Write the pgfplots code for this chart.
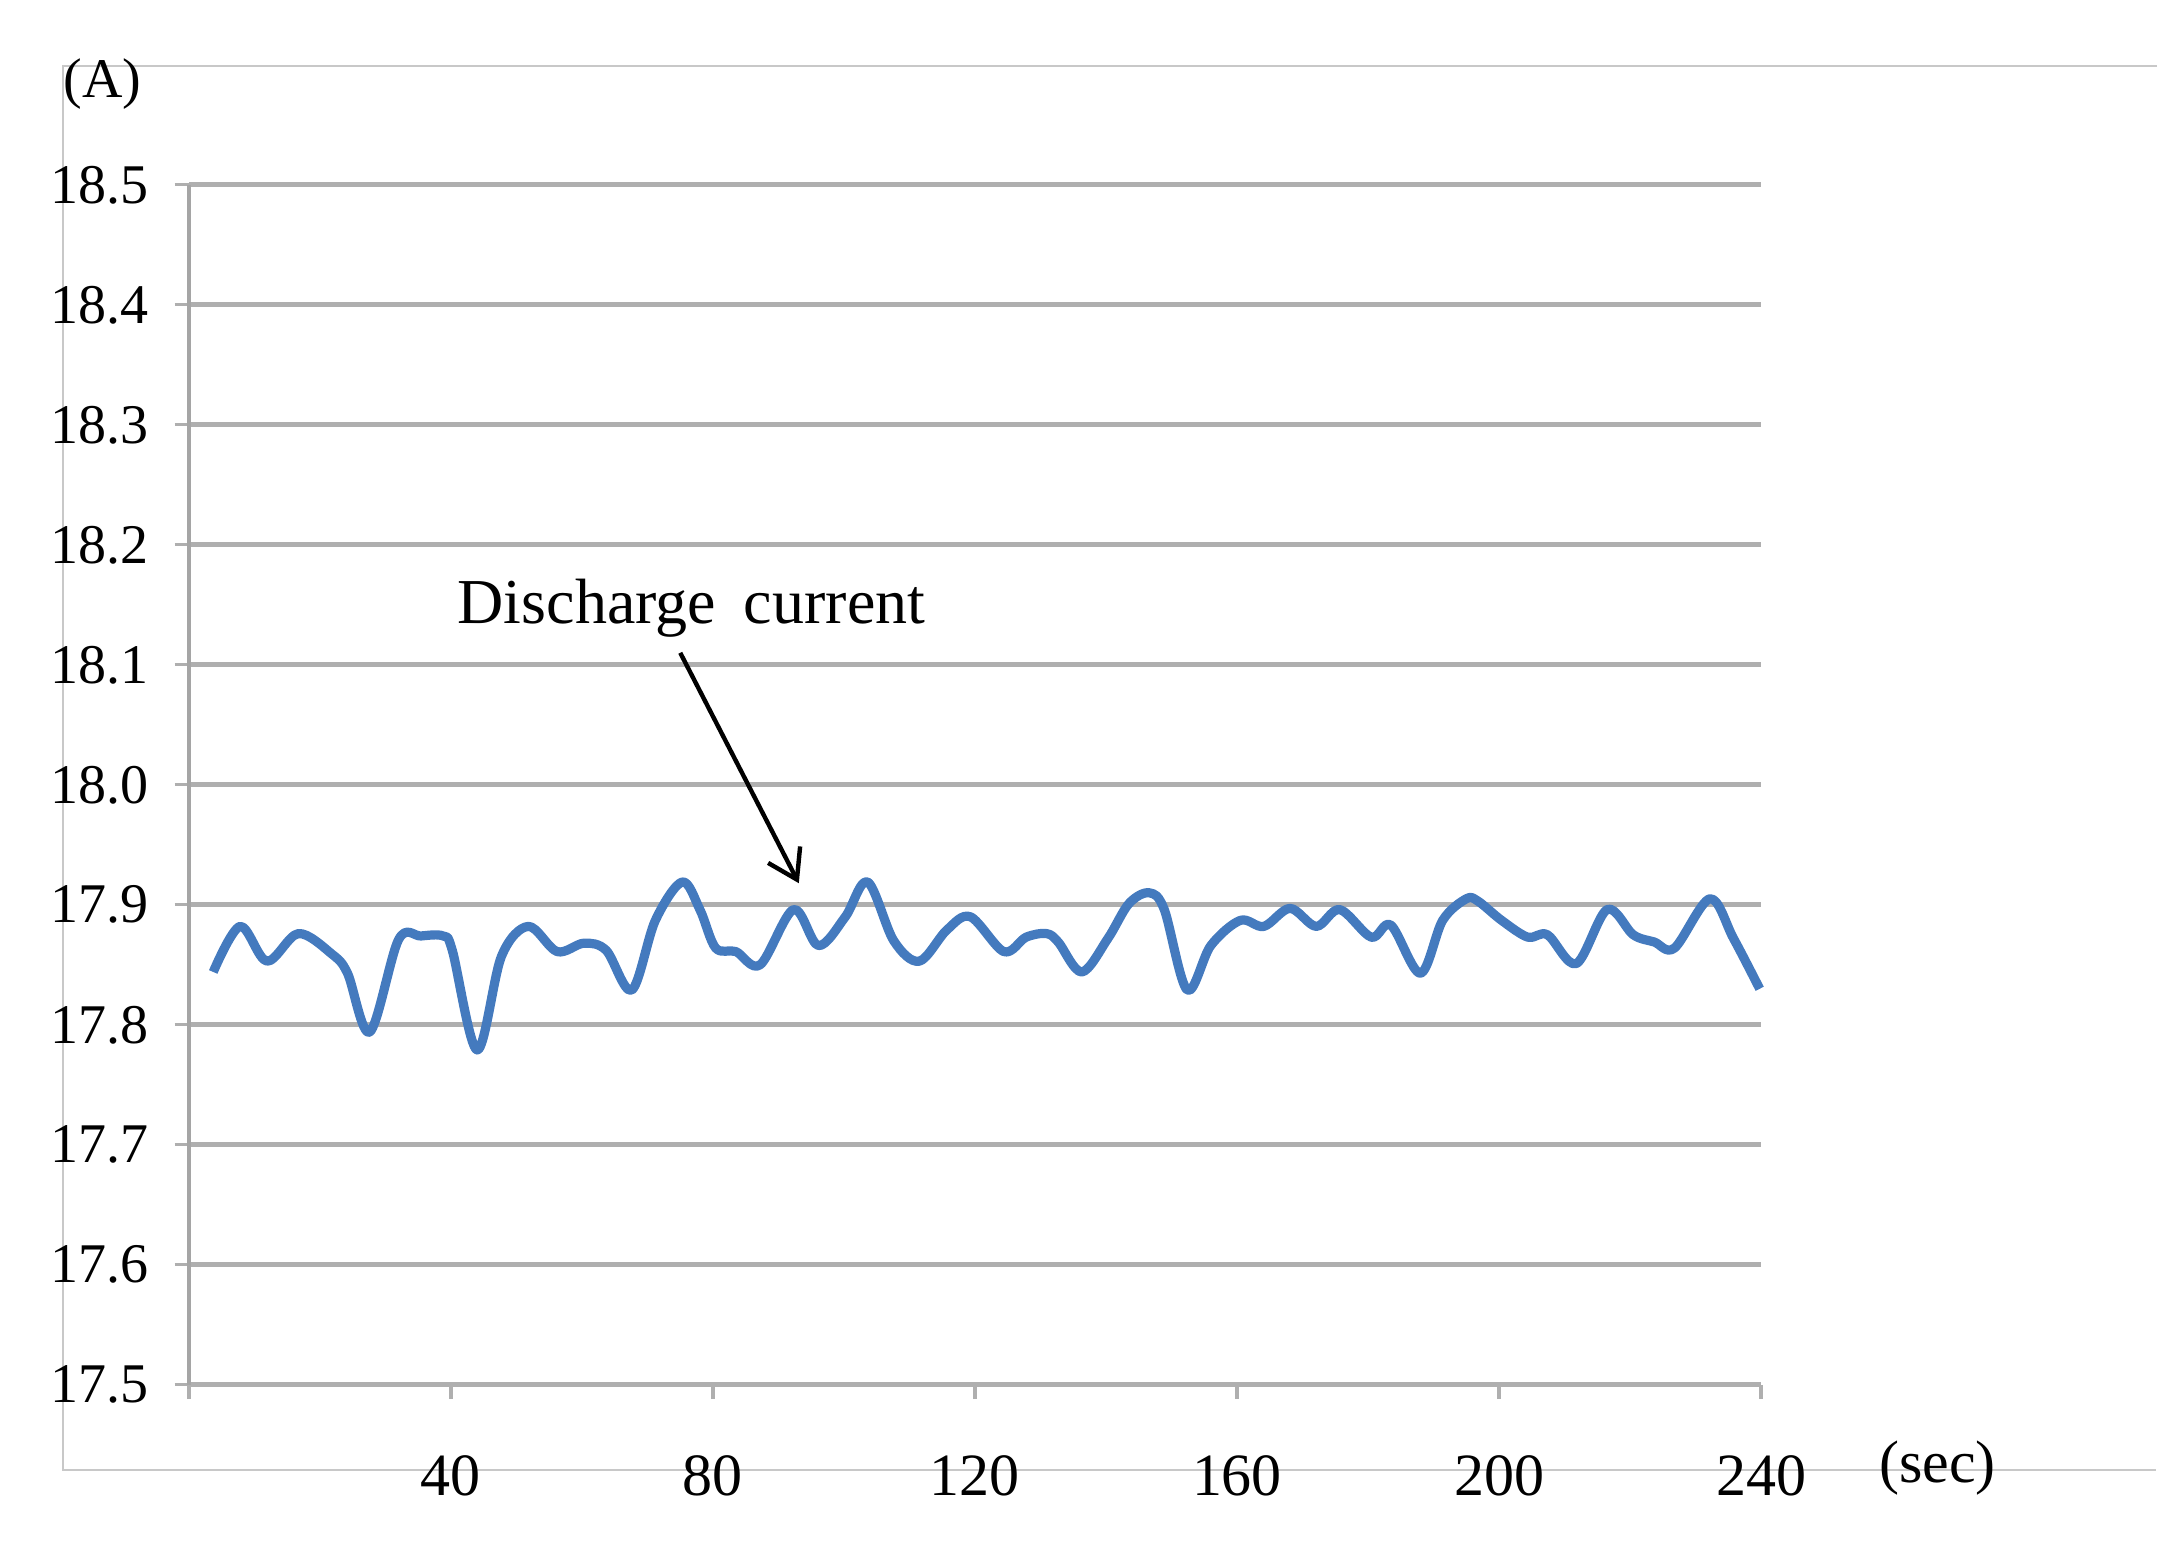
\documentclass[border=0pt]{standalone}
\usepackage{pgfplots}
\pgfplotsset{compat=1.18}
\usepackage{fontspec}
\setmainfont{Liberation Serif}
\usetikzlibrary{arrows.meta}
\definecolor{gridgray}{RGB}{175,175,175}
\definecolor{axisgray}{RGB}{165,165,165}
\definecolor{framegray}{RGB}{200,200,200}
\definecolor{lineblue}{RGB}{68,122,190}
\begin{document}
\begin{tikzpicture}
\useasboundingbox (0,0) rectangle (544.5pt,385.5pt);
% outer frame
\draw[framegray, line width=0.6pt] (539.25pt,369pt) -- (15.75pt,369pt) -- (15.75pt,18pt) -- (539pt,18pt);
\begin{axis}[
  at={(47.25pt,39.3pt)}, anchor=south west,
  scale only axis, width=393pt, height=300pt,
  xmin=0, xmax=240, ymin=17.5, ymax=18.5,
  axis lines*=left,
  axis line style={-},
  x axis line style={draw=gridgray, line width=1.2pt},
  y axis line style={draw=axisgray, line width=0.8pt},
  xtick={0,40,80,120,160,200,240},
  xticklabels={,40,80,120,160,200,240},
  ytick={17.5,17.6,17.7,17.8,17.9,18.0,18.1,18.2,18.3,18.4,18.5},
  yticklabel style={/pgf/number format/fixed, /pgf/number format/fixed zerofill, /pgf/number format/precision=1, /pgf/number format/assume math mode=true, font=\fontsize{14}{16}\selectfont, xshift=-3pt},
  xticklabel style={/pgf/number format/assume math mode=true, font=\fontsize{15}{17}\selectfont, yshift=-10.5pt},
  tick align=outside,
  major tick length=3.6pt,
  tick style={draw=gridgray, line width=0.8pt},
  ymajorgrids,
  grid style={draw=gridgray, line width=1.2pt},
  clip=false,
]
\addplot[lineblue, line width=2.3pt, smooth, tension=0.55, line join=round] coordinates {
(3.7,17.844) (7.8,17.882) (11.9,17.853) (16.7,17.876) (21.8,17.859)
(24.2,17.843) (27.6,17.794) (32.0,17.871) (35.4,17.874) (38.8,17.874)
(40.2,17.862) (44.0,17.779) (47.7,17.857) (51.8,17.882) (56.2,17.861)
(60.3,17.868) (63.7,17.862) (67.6,17.829) (71.2,17.887) (75.3,17.919)
(78.0,17.896) (80.4,17.864) (83.5,17.861) (87.2,17.850) (92.3,17.896)
(96.1,17.866) (100.2,17.890) (103.6,17.919) (107.6,17.870) (111.5,17.853)
(115.7,17.879) (119.3,17.890) (124.4,17.861) (127.8,17.873) (130.9,17.876)
(132.7,17.869) (136.3,17.844) (140.3,17.872) (143.5,17.901) (146.6,17.910)
(148.9,17.896) (152.4,17.829) (156.0,17.866) (160.5,17.887) (164.1,17.882)
(168.1,17.897) (172.1,17.882) (175.7,17.896) (180.5,17.873) (183.5,17.883)
(188.0,17.843) (191.4,17.887) (195.0,17.905) (196.8,17.903) (200.4,17.887)
(204.4,17.873) (207.4,17.875) (211.8,17.851) (216.5,17.896) (220.5,17.875)
(223.7,17.869) (226.8,17.864) (232.2,17.905) (235.8,17.872) (239.8,17.830)
};
\node[font=\fontsize{16}{18}\selectfont, anchor=base west, inner sep=0pt] at (axis cs:40.9,18.134) {Discharge\hspace{7pt}current};
\draw[black, line width=1.1pt, -{Straight Barb[length=7pt,width=9pt]}] (axis cs:75.0,18.11) -- (axis cs:93.1,17.918);
\end{axis}
\node[font=\fontsize{15}{17}\selectfont] at (484.4pt,18.6pt) {(sec)};
\node[font=\fontsize{14}{16}\selectfont] at (25.6pt,364.5pt) {(A)};
\end{tikzpicture}
\end{document}
